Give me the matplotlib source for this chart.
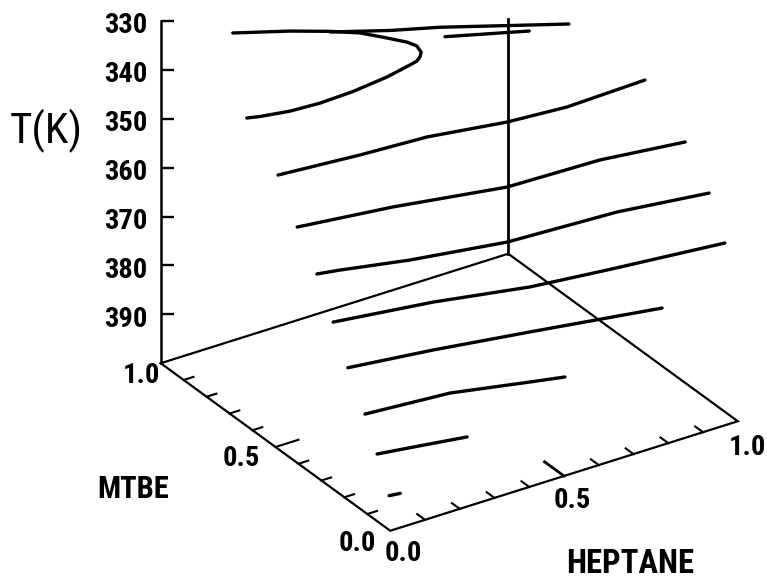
import numpy as np
import matplotlib
matplotlib.use("Agg")
import matplotlib.pyplot as plt

plt.rcParams['font.family'] = ['Roboto Condensed', 'Liberation Sans', 'DejaVu Sans']

# ---------------- axis definitions ----------------
T_floor = 400          # K, temperature at the floor of the box
T_top = 330            # K, top of the temperature axis
T_back_top = 352       # K, top of the vertical line at the back corner
t_ticks = [330, 340, 350, 360, 370, 380, 390]
comp_labels = [0.0, 0.5, 1.0]
comp_minor = [0.1, 0.2, 0.3, 0.4, 0.5, 0.6, 0.7, 0.8, 0.9]

# ---------------- isotherm data (heptane, MTBE fraction) ----------------
iso330a_T = 330
iso330a_hep = [0.310, 0.435, 0.544, 0.683, 0.812]
iso330a_mtbe = [0.732, 0.659, 0.607, 0.526, 0.451]

iso330b_T = 330
iso330b_hep = [0.528, 0.713]
iso330b_mtbe = [0.561, 0.474]

iso337_T = 337
iso337_hep = [0.206, 0.326, 0.406, 0.462, 0.499, 0.531, 0.540, 0.532, 0.517,
              0.499, 0.474, 0.395, 0.286, 0.188, 0.106, 0.031, 0.000]
iso337_mtbe = [0.998, 0.931, 0.877, 0.831, 0.779, 0.731, 0.702, 0.671, 0.653,
               0.639, 0.632, 0.612, 0.596, 0.591, 0.597, 0.614, 0.625]

iso344_T = 344
iso344_hep = [0.000, 0.220, 0.404, 0.606, 0.768, 0.999]
iso344_mtbe = [0.489, 0.465, 0.452, 0.409, 0.393, 0.403]

iso352_T = 352
iso352_hep = [0.003, 0.251, 0.535, 0.796, 1.017]
iso352_mtbe = [0.410, 0.368, 0.301, 0.292, 0.255]

iso358_T = 358.5
iso358_hep = [0.001, 0.058, 0.226, 0.471, 0.775, 1.012]
iso358_mtbe = [0.321, 0.307, 0.257, 0.204, 0.185, 0.143]

iso366_T = 366
iso366_hep = [0.002, 0.258, 0.494, 0.696, 1.007]
iso366_mtbe = [0.252, 0.204, 0.140, 0.109, 0.067]

iso373_T = 373
iso373_hep = [0.000, 0.220, 0.465, 0.796]
iso373_mtbe = [0.185, 0.147, 0.095, 0.021]

iso380_T = 380
iso380_hep = [0.001, 0.230, 0.421, 0.505]
iso380_mtbe = [0.112, 0.088, 0.029, 0.004]

iso386_T = 386.5
iso386_hep = [0.003, 0.117, 0.231]
iso386_mtbe = [0.062, 0.039, 0.015]

iso393_T = 393
iso393_hep = [0.000, 0.029]
iso393_mtbe = [0.005, 0.000]

isotherms = [
    (iso330a_T, iso330a_hep, iso330a_mtbe),
    (iso330b_T, iso330b_hep, iso330b_mtbe),
    (iso337_T, iso337_hep, iso337_mtbe),
    (iso344_T, iso344_hep, iso344_mtbe),
    (iso352_T, iso352_hep, iso352_mtbe),
    (iso358_T, iso358_hep, iso358_mtbe),
    (iso366_T, iso366_hep, iso366_mtbe),
    (iso373_T, iso373_hep, iso373_mtbe),
    (iso380_T, iso380_hep, iso380_mtbe),
    (iso386_T, iso386_hep, iso386_mtbe),
    (iso393_T, iso393_hep, iso393_mtbe),
]

# ---------------- figure ----------------
W, H = 767, 581
fig = plt.figure(figsize=(W / 100, H / 100), dpi=100)
fig.patch.set_facecolor('white')
ax = fig.add_axes([0, 0, 1, 1], projection='3d', proj_type='ortho')
ax.view_init(elev=28.66, azim=236.69)
ax.set_box_aspect((415.9, 418.0, 390.1))
ax.set_xlim(0, 1)
ax.set_ylim(0, 1)
ax.set_zlim(T_floor, T_top)
ax.set_axis_off()

K = 'black'
# floor frame
ax.plot([0, 1, 1, 0, 0], [1, 1, 0, 0, 1], [T_floor] * 5, color=K, lw=1.6,
        solid_joinstyle='miter', clip_on=False)
# temperature axis and back vertical
ax.plot([0, 0], [1, 1], [T_floor, T_top], color=K, lw=1.8, clip_on=False)
ax.plot([1, 1], [1, 1], [T_floor, T_back_top], color=K, lw=2.0, clip_on=False)
ax.plot([0] * len(t_ticks), [1] * len(t_ticks), t_ticks, ls='none', marker=1,
        ms=9.5, mew=1.7, color=K, clip_on=False)

# composition ticks on the floor
for v in comp_minor:
    major = abs(v - 0.5) < 1e-9
    Lm = 0.066 if major else 0.028
    ax.plot([0, Lm], [v, v], [T_floor, T_floor], color=K, lw=1.5, clip_on=False)
    Lh = 0.085 if major else 0.034
    ax.plot([v, v], [0, Lh], [T_floor, T_floor], color=K,
            lw=2.0 if major else 1.5, clip_on=False)

# isotherms
for T, hep, mt in isotherms:
    ax.plot(hep, mt, [T] * len(hep), color=K, lw=2.4, solid_capstyle='round',
            solid_joinstyle='round', clip_on=False)

# ---------------- fit the projected box onto the page ----------------
def to_disp(x, y, z):
    M = ax.get_proj()
    x = np.atleast_1d(np.asarray(x, float))
    y = np.atleast_1d(np.asarray(y, float))
    z = np.atleast_1d(np.asarray(z, float))
    v = M @ np.vstack([x, y, z, np.ones_like(x)])
    xs, ys = v[0] / v[3], v[1] / v[3]
    return ax.transData.transform(np.column_stack([xs, ys]))

fig.canvas.draw()
ref_x = [0, 0, 1, 1, 0]
ref_y = [1, 0, 0, 1, 1]
ref_z = [T_floor, T_floor, T_floor, T_floor, T_top]
target_px = np.array([[160.75, 363.25], [390.25, 530.75], [737.75, 421.25],
                      [508.25, 253.75], [160.75, 20.95]])
Q = np.column_stack([target_px[:, 0], H - target_px[:, 1]])
P = to_disp(ref_x, ref_y, ref_z)
Pm, Qm = P.mean(axis=0), Q.mean(axis=0)
k = np.sum((P - Pm) * (Q - Qm)) / np.sum((P - Pm) ** 2)
t = Qm - k * Pm
bb = ax.get_position()
x0 = k * bb.x0 * W + t[0]
y0 = k * bb.y0 * H + t[1]
ax.set_position([x0 / W, y0 / H, k * bb.width, k * bb.height])


def place(x, y, z, s, dx, dy, **kw):
    px, py = to_disp(x, y, z)[0]
    fig.text((px + dx) / W, (py - dy) / H, s, **kw)


FS = 20.5
FW = 'bold'
for T in t_ticks:
    place(0, 1, T, f'{T}', -13, 5, ha='right', va='center', fontsize=FS,
          fontweight=FW)

mtbe_offsets = {0.0: (-33, 13), 0.5: (-34, 11), 1.0: (-19, 12)}
for v in comp_labels:
    dx, dy = mtbe_offsets[v]
    place(0, v, T_floor, f'{v:.1f}', dx, dy, ha='center', va='center',
          fontsize=FS, fontweight=FW)

hep_offsets = {0.0: (13, 23), 0.5: (8, 25), 1.0: (10, 26)}
for v in comp_labels:
    dx, dy = hep_offsets[v]
    place(v, 0, T_floor, f'{v:.1f}', dx, dy, ha='center', va='center',
          fontsize=FS, fontweight=FW)

fig.text(46 / W, 1 - 131 / H, 'T(K)', fontsize=31, ha='center', va='center')
fig.text(133 / W, 1 - 489 / H, 'MTBE', fontsize=22, ha='center', va='center',
         fontweight=FW)
fig.text(630 / W, 1 - 573 / H, 'HEPTANE', fontsize=23.5, ha='center',
         va='baseline', fontweight=FW)

fig.savefig('out.png', dpi=100, facecolor='white')
